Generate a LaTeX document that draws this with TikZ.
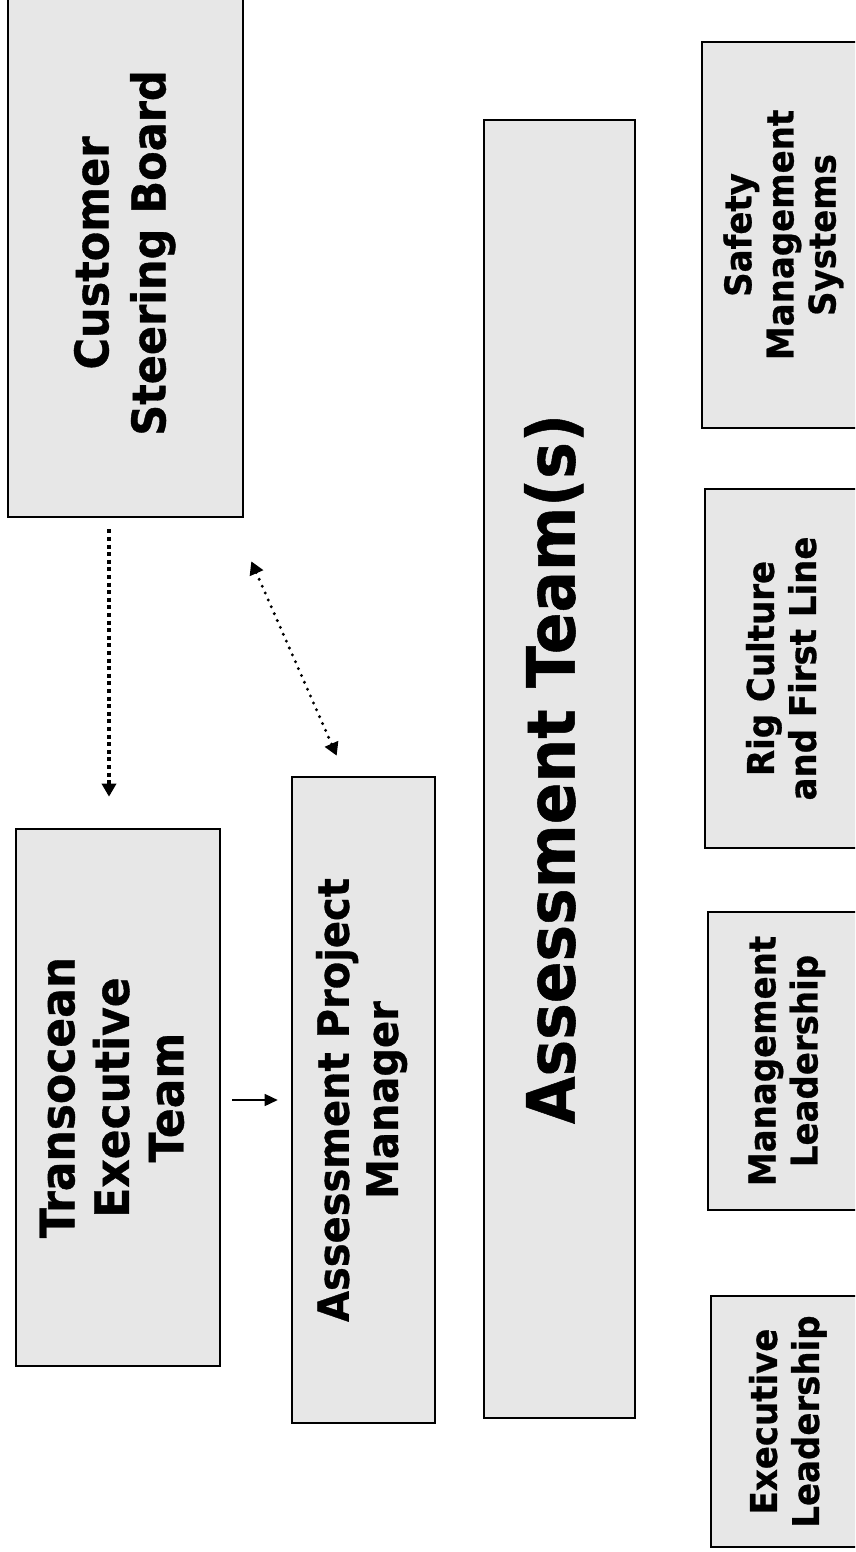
\documentclass[tikz,border=0pt]{standalone}
\usepackage{fontspec}
\setmainfont{DejaVu Sans}[BoldFeatures={FakeBold=0.8}]
\usepackage{graphicx}
\usetikzlibrary{arrows.meta,calc}

\definecolor{boxgray}{gray}{0.905}

% bold box text, slightly tall across the lines as on the slide
\newcommand{\boxtext}[3]{\scalebox{1}[1.08]{\fontsize{#1}{#2}\selectfont\bfseries
  \begin{tabular}{@{}c@{}}#3\end{tabular}}}

\tikzset{
  box/.style={draw=black, line width=2.6pt, fill=boxgray, rotate=90,
    inner sep=0pt, align=center},
  sqdots/.style={line width=4pt, dash pattern=on 4pt off 3.6pt},
  rddots/.style={line width=3.3pt, line cap=round, dash pattern=on 0pt off 7.5pt},
  bighead/.tip={Triangle[length=13pt,width=14pt]},
  smallhead/.tip={Triangle[length=13pt,width=12pt]},
}

\begin{document}
\begin{tikzpicture}[x=1pt,y=-1pt]
\useasboundingbox (0,0) rectangle (855,1552);
\clip (0,0) rectangle (855,1552);

% left side: boards, teams and the project manager
\node[box, minimum width=528pt, minimum height=235pt] (CSB) at (125.5,253)
  {\boxtext{43pt}{52.8pt}{Customer\\Steering Board}};
\node[box, minimum width=537pt, minimum height=204pt] (TET) at (118,1097.5)
  {\boxtext{44pt}{50.5pt}{Transocean\\Executive\\Team}};
\node[box, minimum width=646pt, minimum height=143pt] (APM) at (363.5,1100)
  {\boxtext{40pt}{45.4pt}{Assessment Project\\Manager}};
\node[box, minimum width=1298pt, minimum height=151pt] (AT) at (559.5,769)
  {\boxtext{61.5pt}{70pt}{Assessment Team(s)}};

% right column: assessment areas
\node[box, minimum width=386pt, minimum height=166pt] (SMS) at (785,235)
  {\boxtext{34pt}{39pt}{Safety\\Management\\Systems}};
\node[box, minimum width=359pt, minimum height=163pt] (RIG) at (786.5,668.5)
  {\boxtext{34pt}{39pt}{Rig Culture\\and First Line}};
\node[box, minimum width=298pt, minimum height=160pt] (ML) at (788,1061)
  {\boxtext{34pt}{39pt}{Management\\Leadership}};
\node[box, minimum width=251pt, minimum height=157pt] (EL) at (789.5,1421.5)
  {\boxtext{34pt}{39pt}{Executive\\Leadership}};

% connectors
\draw[sqdots, -bighead] ($(CSB.west)+(-16.5,11)$) -- ($(TET.east)+(-9,-31)$);
\draw[rddots, bighead-bighead] ($(CSB.south west)+(7,43)$) -- ($(APM.north east)+(46,-20)$);
\draw[line width=1.5pt, -smallhead] ($(TET.south)+(11,2.5)$) -- ($(APM.north)+(-13,0)$);
\end{tikzpicture}
\end{document}
